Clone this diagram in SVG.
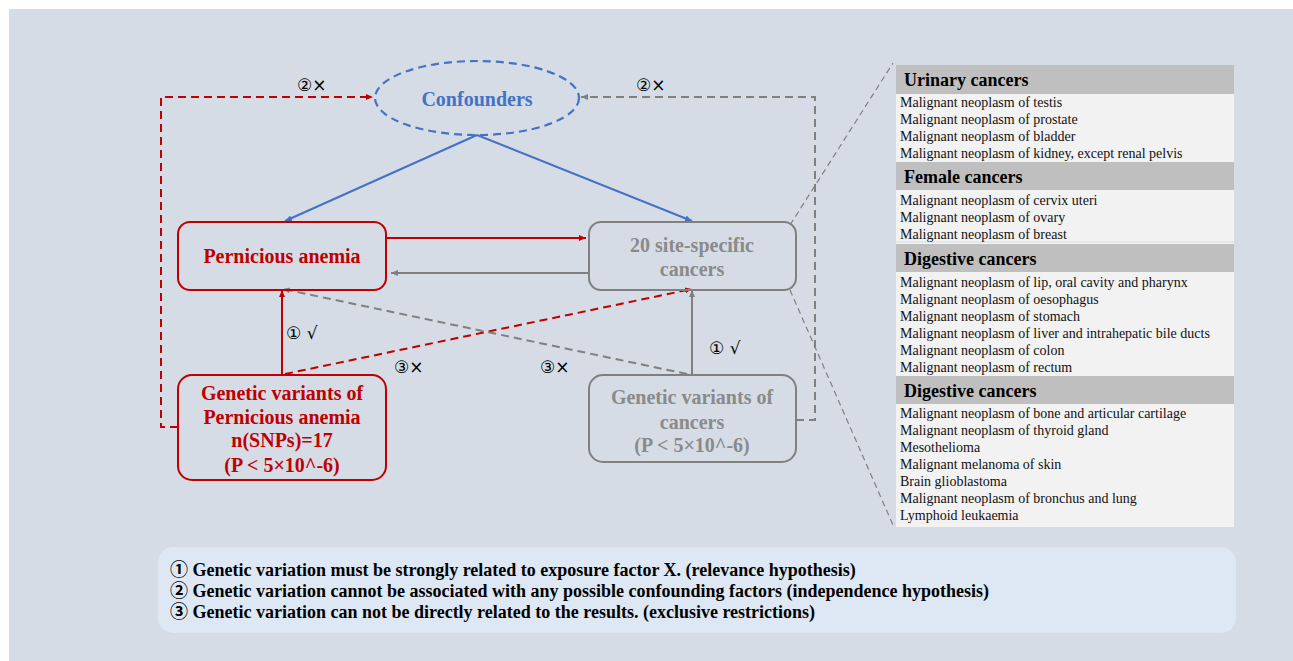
<svg xmlns="http://www.w3.org/2000/svg" width="1293" height="661" viewBox="0 0 1293 661">
<style>
.node{font-family:"Liberation Serif","Noto Sans CJK SC",serif;font-weight:bold;font-size:20px;text-anchor:middle}
.red{fill:#c00000}
.gray{fill:#8a8a8a}
.blue{fill:#4472c4}
.lbl{font-family:"DejaVu Sans","Noto Sans CJK SC",sans-serif;font-size:17px;fill:#000}
.hdr{font-family:"Liberation Serif",serif;font-weight:bold;font-size:18px;fill:#000}
.item{font-family:"Liberation Serif",serif;font-size:14px;fill:#111}
.leg{font-family:"Liberation Serif","Noto Sans CJK SC",serif;font-weight:bold;font-size:18px;fill:#000}
</style>
<defs>
<marker id="ar" markerWidth="8" markerHeight="8" refX="7" refY="4" orient="auto" markerUnits="userSpaceOnUse"><path d="M0,1 L7,4 L0,7 z" fill="#c00000"/></marker>
<marker id="ag" markerWidth="8" markerHeight="8" refX="7" refY="4" orient="auto" markerUnits="userSpaceOnUse"><path d="M0,1 L7,4 L0,7 z" fill="#808080"/></marker>
<marker id="ab" markerWidth="8" markerHeight="8" refX="7" refY="4" orient="auto" markerUnits="userSpaceOnUse"><path d="M0,1 L7,4 L0,7 z" fill="#4472c4"/></marker>
</defs>
<rect x="0" y="0" width="1293" height="661" fill="#ffffff"/>
<rect x="9" y="9" width="1284" height="652" fill="#d5dce6"/>

<g id="connectors" fill="none">
<line x1="477" y1="135" x2="285" y2="221" stroke="#4472c4" stroke-width="2" marker-end="url(#ab)"/>
<line x1="477" y1="135" x2="692" y2="221" stroke="#4472c4" stroke-width="2" marker-end="url(#ab)"/>
<line x1="387" y1="238" x2="586" y2="238" stroke="#c00000" stroke-width="2" marker-end="url(#ar)"/>
<line x1="589" y1="273" x2="391" y2="273" stroke="#808080" stroke-width="2" marker-end="url(#ag)"/>
<line x1="282" y1="375" x2="282" y2="290" stroke="#c00000" stroke-width="2" marker-end="url(#ar)"/>
<line x1="692" y1="375" x2="692" y2="290" stroke="#808080" stroke-width="2" marker-end="url(#ag)"/>
<line x1="285" y1="374" x2="692" y2="289" stroke="#c00000" stroke-width="2" stroke-dasharray="8,5" marker-end="url(#ar)"/>
<line x1="687" y1="374" x2="283" y2="289" stroke="#808080" stroke-width="2" stroke-dasharray="8,5" marker-end="url(#ag)"/>
<polyline points="178,427 161,427 161,97 373,97" stroke="#c00000" stroke-width="2" stroke-dasharray="8,5" marker-end="url(#ar)"/>
<polyline points="796,420 815,420 815,97 581,97" stroke="#808080" stroke-width="2" stroke-dasharray="8,5" marker-end="url(#ag)"/>
<line x1="790" y1="225" x2="893" y2="63" stroke="#808080" stroke-width="1.2" stroke-dasharray="6,4"/>
<line x1="790" y1="290" x2="893" y2="525" stroke="#808080" stroke-width="1.2" stroke-dasharray="6,4"/>
</g>

<g id="labels">
<text class="lbl" x="297" y="91">②×</text>
<text class="lbl" x="636" y="91">②×</text>
<text class="lbl" x="286" y="339">① √</text>
<text class="lbl" x="709" y="354">① √</text>
<text class="lbl" x="394" y="373">③×</text>
<text class="lbl" x="540" y="373">③×</text>
</g>

<g id="confounders">
<ellipse cx="477" cy="98" rx="102" ry="37" fill="none" stroke="#4472c4" stroke-width="2.2" stroke-dasharray="8,5"/>
<text class="node blue" x="477" y="106">Confounders</text>
</g>

<g id="pernicious-anemia">
<rect x="178" y="222" width="208" height="68" rx="12" fill="none" stroke="#c00000" stroke-width="2"/>
<text class="node red" x="282" y="263">Pernicious anemia</text>
</g>

<g id="cancers">
<rect x="589" y="222" width="207" height="68" rx="12" fill="none" stroke="#808080" stroke-width="2"/>
<text class="node gray" x="692" y="252">20 site-specific</text>
<text class="node gray" x="692" y="276">cancers</text>
</g>

<g id="gv-pa">
<rect x="178" y="375" width="208" height="105" rx="14" fill="none" stroke="#c00000" stroke-width="2"/>
<text class="node red" x="282" y="400">Genetic variants of</text>
<text class="node red" x="282" y="424">Pernicious anemia</text>
<text class="node red" x="282" y="447">n(SNPs)=17</text>
<text class="node red" x="282" y="472">(P &lt; 5×10^-6)</text>
</g>

<g id="gv-cancers">
<rect x="589" y="375" width="207" height="87" rx="14" fill="none" stroke="#808080" stroke-width="2"/>
<text class="node gray" x="692" y="404">Genetic variants of</text>
<text class="node gray" x="692" y="429">cancers</text>
<text class="node gray" x="692" y="452">(P &lt; 5×10^-6)</text>
</g>

<g id="cancer-table">
<rect x="896" y="65" width="338" height="462" fill="#f2f2f2"/>
<rect x="896" y="65" width="338" height="29" fill="#bfbfbf"/>
<rect x="896" y="162" width="338" height="28" fill="#bfbfbf"/>
<rect x="896" y="244" width="338" height="28" fill="#bfbfbf"/>
<rect x="896" y="376" width="338" height="28" fill="#bfbfbf"/>
<line x1="896" y1="242" x2="1234" y2="242" stroke="#d5dce6" stroke-width="1"/>
<text class="hdr" x="904" y="86">Urinary cancers</text>
<text class="item" x="900" y="107">Malignant neoplasm of testis</text>
<text class="item" x="900" y="124">Malignant neoplasm of prostate</text>
<text class="item" x="900" y="141">Malignant neoplasm of bladder</text>
<text class="item" x="900" y="158">Malignant neoplasm of kidney, except renal pelvis</text>
<text class="hdr" x="904" y="183">Female cancers</text>
<text class="item" x="900" y="205">Malignant neoplasm of cervix uteri</text>
<text class="item" x="900" y="222">Malignant neoplasm of ovary</text>
<text class="item" x="900" y="239">Malignant neoplasm of breast</text>
<text class="hdr" x="904" y="265">Digestive cancers</text>
<text class="item" x="900" y="287">Malignant neoplasm of lip, oral cavity and pharynx</text>
<text class="item" x="900" y="304">Malignant neoplasm of oesophagus</text>
<text class="item" x="900" y="321">Malignant neoplasm of stomach</text>
<text class="item" x="900" y="338">Malignant neoplasm of liver and intrahepatic bile ducts</text>
<text class="item" x="900" y="355">Malignant neoplasm of colon</text>
<text class="item" x="900" y="372">Malignant neoplasm of rectum</text>
<text class="hdr" x="904" y="397">Digestive cancers</text>
<text class="item" x="900" y="418">Malignant neoplasm of bone and articular cartilage</text>
<text class="item" x="900" y="435">Malignant neoplasm of thyroid gland</text>
<text class="item" x="900" y="452">Mesothelioma</text>
<text class="item" x="900" y="469">Malignant melanoma of skin</text>
<text class="item" x="900" y="486">Brain glioblastoma</text>
<text class="item" x="900" y="503">Malignant neoplasm of bronchus and lung</text>
<text class="item" x="900" y="520">Lymphoid leukaemia</text>
</g>

<g id="legend">
<rect x="158" y="547" width="1078" height="86" rx="15" fill="#dde8f4"/>
<text class="leg" x="170" y="576">① Genetic variation must be strongly related to exposure factor X. (relevance hypothesis)</text>
<text class="leg" x="170" y="597">② Genetic variation cannot be associated with any possible confounding factors (independence hypothesis)</text>
<text class="leg" x="170" y="618">③ Genetic variation can not be directly related to the results. (exclusive restrictions)</text>
</g>
</svg>
